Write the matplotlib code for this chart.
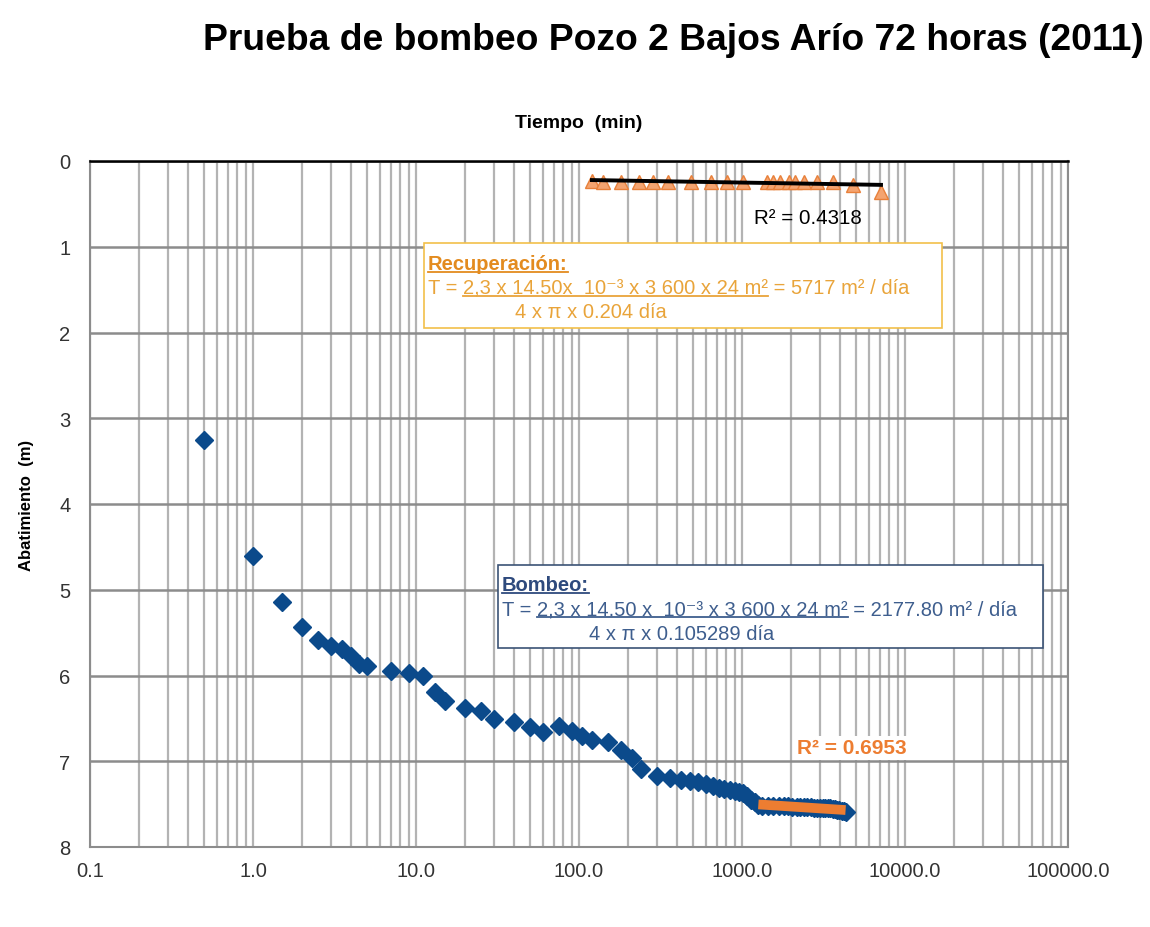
import matplotlib
matplotlib.use("Agg")
import matplotlib.pyplot as plt
import numpy as np
from matplotlib.lines import Line2D
from matplotlib.patches import Rectangle
from matplotlib.ticker import FixedLocator, LogLocator, NullFormatter

plt.rcParams["font.family"] = ["Liberation Sans", "DejaVu Sans"]

W, H = 1150, 928

# pumping test (drawdown vs time)
bombeo_t = [0.5, 1, 1.5, 2, 2.5, 3, 3.5, 4, 4.5, 5, 7, 9, 11, 13, 15, 20, 25, 30,
            40, 50, 60, 75, 90, 105, 120, 150, 180, 210, 240, 300, 360, 420, 480,
            540, 600, 660, 720, 780, 840, 900, 960, 1020, 1080, 1140, 1200]
bombeo_s = [3.25, 4.61, 5.14, 5.43, 5.59, 5.66, 5.69, 5.77, 5.87, 5.89, 5.95, 5.97,
            6.01, 6.19, 6.30, 6.38, 6.41, 6.51, 6.54, 6.60, 6.66, 6.59, 6.65, 6.71,
            6.75, 6.78, 6.87, 6.96, 7.09, 7.17, 7.19, 7.22, 7.23, 7.24, 7.26, 7.29,
            7.31, 7.32, 7.34, 7.35, 7.36, 7.37, 7.41, 7.45, 7.48]

# late part of pumping used for the fit
tardio_t = [1260, 1320, 1440, 1560, 1680, 1800, 1920, 2040, 2160, 2280, 2400, 2520,
            2640, 2760, 2880, 3000, 3120, 3240, 3360, 3480, 3600, 3720, 3840, 3960,
            4080, 4200, 4320]
tardio_s = [7.51, 7.52, 7.52, 7.52, 7.52, 7.52, 7.52, 7.53, 7.53, 7.53, 7.53, 7.53,
            7.53, 7.54, 7.54, 7.54, 7.54, 7.55, 7.55, 7.55, 7.56, 7.56, 7.57, 7.57,
            7.58, 7.58, 7.59]

# recovery
rec_t = [120, 140, 180, 235, 285, 350, 485, 645, 810, 1015, 1425, 1550, 1710, 1940,
         2115, 2400, 2885, 3615, 4800, 7125]
rec_s = [0.23, 0.24, 0.24, 0.24, 0.24, 0.24, 0.24, 0.24, 0.24, 0.24, 0.24, 0.24,
         0.25, 0.25, 0.25, 0.25, 0.25, 0.25, 0.28, 0.36]

x_ticks = [0.1, 1, 10, 100, 1000, 10000, 100000]
y_ticks = [0, 1, 2, 3, 4, 5, 6, 7, 8]

BLUE = "#0B4A8B"
ORANGE = "#ED7D31"
GOLD = "#E9A43A"
SLATE = "#3E5E8E"


def _fx(px):
    return px / W


def _fy(py):
    return 1 - py / H


def _log_fit(t, s):
    a, b = np.polyfit(np.log(t), s, 1)
    tt = np.array([min(t), max(t)], dtype=float)
    return tt, a * np.log(tt) + b


def _width(fig, renderer, s, **kw):
    t = fig.text(0, 0, s, **kw)
    w = t.get_window_extent(renderer).width
    t.remove()
    return w


def _underlined(fig, renderer, x_px, y_px, text, start, end, color, **kw):
    """Draw text with baseline at y_px and underline the span text[start:end]."""
    fig.text(_fx(x_px), _fy(y_px), text, color=color, va="baseline", **kw)
    x0 = x_px
    if start > 0:
        x0 += _width(fig, renderer, text[:start + 1], **kw) - _width(fig, renderer, text[start], **kw)
    x1 = x_px + _width(fig, renderer, text[:end], **kw)
    fig.add_artist(Line2D([_fx(x0), _fx(x1)], [_fy(y_px + 3), _fy(y_px + 3)],
                          color=color, lw=1.3, transform=fig.transFigure, zorder=7))


fig = plt.figure(figsize=(W / 100, H / 100), dpi=100)
ax = fig.add_axes([_fx(90), _fy(848), _fx(1068) - _fx(90), _fy(162) - _fy(848)])

ax.set_xscale("log")
ax.set_xlim(0.1, 100000)
ax.set_ylim(8, 0)

ax.xaxis.set_major_locator(FixedLocator(x_ticks))
ax.set_xticklabels([f"{v:.1f}" for v in x_ticks])
ax.xaxis.set_minor_locator(LogLocator(base=10, subs=np.arange(2, 10)))
ax.xaxis.set_minor_formatter(NullFormatter())
ax.set_yticks(y_ticks)
ax.tick_params(axis="both", which="both", length=0, labelsize=14.5,
               labelcolor="#333333", pad=10)
ax.tick_params(axis="y", pad=14)

ax.grid(True, axis="x", which="both", color="#B3B3B3", lw=1.6)
ax.grid(True, axis="y", which="major", color="#8C8C8C", lw=1.8)
ax.set_axisbelow(True)
for side in ["left", "bottom", "right"]:
    ax.spines[side].set_color("#8C8C8C")
    ax.spines[side].set_linewidth(1.5)
ax.spines["top"].set_color("black")
ax.spines["top"].set_linewidth(1.8)

# pumping data
ax.plot(bombeo_t, bombeo_s, "D", color=BLUE, ms=9.5, mec=BLUE, ls="none", zorder=3)
ax.plot(tardio_t, tardio_s, "D", color=BLUE, ms=9.5, mec=BLUE, ls="none", zorder=3)
ft, fs = _log_fit(tardio_t, tardio_s)
ax.plot(ft, fs, color=ORANGE, lw=7, solid_capstyle="butt", zorder=4)

# recovery data
ax.plot(rec_t, rec_s, "^", color="#F4A470", mec="#E8803A", ms=10, ls="none", zorder=3)
rt, rs = _log_fit(rec_t, rec_s)
ax.plot(rt, rs, color="black", lw=2.8, zorder=4)

fig.text(_fx(808), _fy(218), "R² = 0.4318", fontsize=14.8, color="black",
         ha="center", va="center")
fig.text(_fx(852), _fy(749), "R² = 0.6953", fontsize=15, color=ORANGE,
         fontweight="bold", ha="center", va="center",
         bbox=dict(facecolor="white", edgecolor="none", pad=2))

# titles
fig.text(_fx(673), _fy(40), "Prueba de bombeo Pozo 2 Bajos Arío 72 horas (2011)",
         fontsize=26.8, fontweight="bold", ha="center", va="center")
fig.text(_fx(579), _fy(124), "Tiempo  (min)", fontsize=14, fontweight="bold",
         ha="center", va="center")
fig.text(_fx(27), _fy(505), "Abatimiento  (m)", fontsize=12, fontweight="bold",
         ha="center", va="center", rotation=90)

# annotation boxes
fig.add_artist(Rectangle((_fx(424), _fy(329)), _fx(942) - _fx(424), _fy(244) - _fy(329),
                         transform=fig.transFigure, facecolor="white",
                         edgecolor="#F2C04A", lw=1.2, zorder=5))
fig.add_artist(Rectangle((_fx(498), _fy(649)), _fx(1043) - _fx(498), _fy(566) - _fy(649),
                         transform=fig.transFigure, facecolor="white",
                         edgecolor="#3B5375", lw=1.2, zorder=5))

renderer = fig.canvas.get_renderer()
kw = dict(fontsize=14.5, zorder=6)

rec_title = "Recuperación:"
_underlined(fig, renderer, 428, 270, rec_title, 0, len(rec_title), "#E38B1F",
            fontweight="bold", **kw)
rec_line = "T = 2,3 x 14.50x  10⁻³ x 3 600 x 24 m² = 5717 m² / día"
_underlined(fig, renderer, 428, 294, rec_line, 4, rec_line.index(" = 5717"), GOLD, **kw)
fig.text(_fx(515), _fy(318), "4 x π x 0.204 día", color=GOLD, va="baseline", **kw)

bom_title = "Bombeo:"
_underlined(fig, renderer, 502, 591, bom_title, 0, len(bom_title), "#2E4A7D",
            fontweight="bold", **kw)
bom_line = "T = 2,3 x 14.50 x  10⁻³ x 3 600 x 24 m² = 2177.80 m² / día"
_underlined(fig, renderer, 502, 615, bom_line, 4, bom_line.index(" = 2177"), SLATE, **kw)
fig.text(_fx(589), _fy(640), "4 x π x 0.105289 día", color=SLATE, va="baseline", **kw)

fig.savefig("out.png", dpi=100)
plt.close(fig)
